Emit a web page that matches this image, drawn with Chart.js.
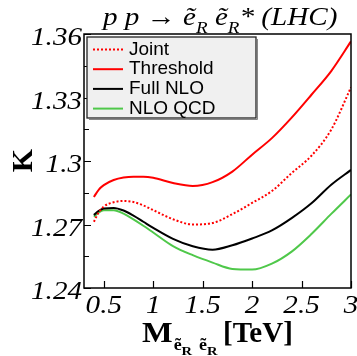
<!DOCTYPE html>
<html>
<head>
<meta charset="utf-8">
<script src="https://cdn.jsdelivr.net/npm/chart.js@4"></script>
<style>
  body { margin: 0; background: #fff; }
  canvas { display: block; }
</style>
</head>
<body>
<canvas id="kChart" width="357" height="356"></canvas>
<script>
// K-factor vs pair mass (TeV)
const masses    = [0.4, 0.45, 0.5, 0.6, 0.7, 0.8, 0.9, 1.0, 1.2, 1.4, 1.6, 1.8, 2.0, 2.2, 2.4, 2.6, 2.8, 3.0];
const joint     = [1.2713, 1.2758, 1.2785, 1.2805, 1.2811, 1.2806, 1.2790, 1.2768, 1.2725, 1.2700, 1.2707, 1.2749, 1.2802, 1.2858, 1.2943, 1.3025, 1.3148, 1.3348];
const threshold = [1.2830, 1.2865, 1.2886, 1.2910, 1.2922, 1.2926, 1.2926, 1.2921, 1.2896, 1.2882, 1.2900, 1.2950, 1.3030, 1.3108, 1.3205, 1.3313, 1.3425, 1.3565];
const fullNLO   = [1.2745, 1.2765, 1.2776, 1.2778, 1.2766, 1.2742, 1.2713, 1.2684, 1.2632, 1.2597, 1.2581, 1.2602, 1.2634, 1.2672, 1.2730, 1.2800, 1.2888, 1.2958];
const nloQCD    = [1.2737, 1.2757, 1.2767, 1.2767, 1.2751, 1.2724, 1.2694, 1.2662, 1.2598, 1.2555, 1.2520, 1.2490, 1.2487, 1.2515, 1.2572, 1.2655, 1.2750, 1.2842];

const seriesLabels = ['Joint', 'Threshold', 'Full NLO', 'NLO QCD'];
const xTicks = [0.5, 1, 1.5, 2, 2.5, 3];
const xTickLabels = ['0.5', '1', '1.5', '2', '2.5', '3'];
const yTicks = [1.24, 1.27, 1.3, 1.33, 1.36];
const yTickLabels = ['1.24', '1.27', '1.3', '1.33', '1.36'];
const yMinorTicks = [1.255, 1.285, 1.315, 1.345];

const toPoints = (vals) => masses.map((m, i) => ({ x: m, y: vals[i] }));

const SERIF = '"Liberation Serif", "DejaVu Serif", serif';
const SANS = '"Liberation Sans", Arial, sans-serif';
const STRETCH = 1.12; // the original's serif text is a bit wider than Liberation Serif

// draw text stretched horizontally around its anchor, return drawn width
function wideText(ctx, txt, x, y) {
  ctx.save();
  ctx.translate(x, y);
  ctx.scale(STRETCH, 1);
  ctx.fillText(txt, 0, 0);
  ctx.restore();
  return ctx.measureText(txt).width * STRETCH;
}

// frame, inward ticks, labels, titles and the legend box
const decor = {
  id: 'decor',
  afterDraw(chart) {
    const ctx = chart.ctx;
    const a = chart.chartArea;
    const xs = chart.scales.x, ys = chart.scales.y;
    ctx.save();

    // frame
    ctx.strokeStyle = '#000';
    ctx.lineWidth = 1.5;
    ctx.strokeRect(a.left, a.top, a.right - a.left, a.bottom - a.top);

    // ticks
    ctx.lineWidth = 1.2;
    ctx.beginPath();
    yTicks.forEach(v => {
      const y = Math.round(ys.getPixelForValue(v)) + 0.5;
      ctx.moveTo(a.left, y); ctx.lineTo(a.left + 7, y);
    });
    yMinorTicks.forEach(v => {
      const y = Math.round(ys.getPixelForValue(v)) + 0.5;
      ctx.moveTo(a.left, y); ctx.lineTo(a.left + 5, y);
    });
    xTicks.forEach(v => {
      const x = Math.round(xs.getPixelForValue(v)) + 0.5;
      ctx.moveTo(x, a.bottom); ctx.lineTo(x, a.bottom - 7);
    });
    ctx.stroke();

    // tick labels
    ctx.fillStyle = '#000';
    ctx.font = 'italic 26px ' + SERIF;
    ctx.textAlign = 'right';
    ctx.textBaseline = 'alphabetic';
    yTicks.forEach((v, i) => {
      wideText(ctx, yTickLabels[i], a.left - 2, ys.getPixelForValue(v) + 11);
    });
    ctx.textAlign = 'center';
    xTicks.forEach((v, i) => {
      wideText(ctx, xTickLabels[i], xs.getPixelForValue(v), a.bottom + 25);
    });

    // title: p p -> e~R e~R* (LHC)
    ctx.textAlign = 'left';
    let x = 103;
    const base = 25;
    const run = (txt, font, dy) => {
      ctx.font = font;
      x += wideText(ctx, txt, x, base + (dy || 0));
    };
    const big = 'italic 26px ' + SERIF, sub = 'italic 17px ' + SERIF;
    run('p p \u2192 ', big);
    run('e\u0303', big);
    run('R', sub, 8);
    run(' e\u0303', big);
    run('R', sub, 8);
    run('* (LHC)', big);

    // x axis title
    x = 142;
    const xb = 342;
    ctx.font = 'bold 29px ' + SERIF;
    x += wideText(ctx, 'M', x, xb);
    const subPair = () => {
      ctx.font = 'bold 16px ' + SERIF;
      x += wideText(ctx, 'e\u0303', x, xb + 8);
      ctx.font = 'bold 13px ' + SERIF;
      x += wideText(ctx, 'R', x, xb + 13);
    };
    x += 1;
    subPair();
    x += 7;
    subPair();
    ctx.font = 'bold 29px ' + SERIF;
    ctx.fillText('[TeV]', 223, xb);

    // y axis title
    ctx.save();
    ctx.translate(32, 160.5);
    ctx.rotate(-Math.PI / 2);
    ctx.textAlign = 'center';
    ctx.font = 'bold 30px ' + SERIF;
    ctx.fillText('K', 0, 0);
    ctx.restore();

    // legend
    const lx = 87, ly = 37, lw = 169, lh = 81;
    ctx.fillStyle = '#f0f0f0';
    ctx.fillRect(lx, ly, lw, lh);
    ctx.strokeStyle = '#888';
    ctx.lineWidth = 1;
    ctx.beginPath();
    ctx.moveTo(lx + lw + 1.5, ly + 2); ctx.lineTo(lx + lw + 1.5, ly + lh + 1.5); ctx.lineTo(lx + 2, ly + lh + 1.5);
    ctx.stroke();
    ctx.strokeStyle = '#222';
    ctx.lineWidth = 1.3;
    ctx.strokeRect(lx, ly, lw, lh);
    ctx.font = '19px ' + SANS;
    ctx.textAlign = 'left';
    chart.data.datasets.forEach((ds, i) => {
      const y = 49.5 + i * 19.7;
      ctx.strokeStyle = ds.borderColor;
      ctx.lineWidth = 2;
      ctx.setLineDash(ds.borderDash || []);
      ctx.beginPath();
      ctx.moveTo(93, y); ctx.lineTo(123, y);
      ctx.stroke();
      ctx.setLineDash([]);
      ctx.fillStyle = '#000';
      ctx.fillText(ds.label, 129, y + 5);
    });

    ctx.restore();
  }
};

const ctx = document.getElementById('kChart').getContext('2d');
new Chart(ctx, {
  type: 'line',
  data: {
    datasets: [
      { label: seriesLabels[0], data: toPoints(joint), borderColor: '#ff0000', borderDash: [2, 2], borderWidth: 2 },
      { label: seriesLabels[1], data: toPoints(threshold), borderColor: '#ff0000', borderWidth: 2 },
      { label: seriesLabels[2], data: toPoints(fullNLO), borderColor: '#000000', borderWidth: 2 },
      { label: seriesLabels[3], data: toPoints(nloQCD), borderColor: '#4fc84a', borderWidth: 2 },
    ]
  },
  options: {
    responsive: false,
    animation: false,
    layout: { padding: { left: 84, right: 6, top: 34, bottom: 68 } },
    elements: { point: { radius: 0 }, line: { cubicInterpolationMode: 'monotone' } },
    scales: {
      x: { type: 'linear', min: 0.3, max: 3.0, display: false },
      y: { type: 'linear', min: 1.24, max: 1.36, display: false }
    },
    plugins: { legend: { display: false }, tooltip: { enabled: false } }
  },
  plugins: [decor]
});
</script>
</body>
</html>
